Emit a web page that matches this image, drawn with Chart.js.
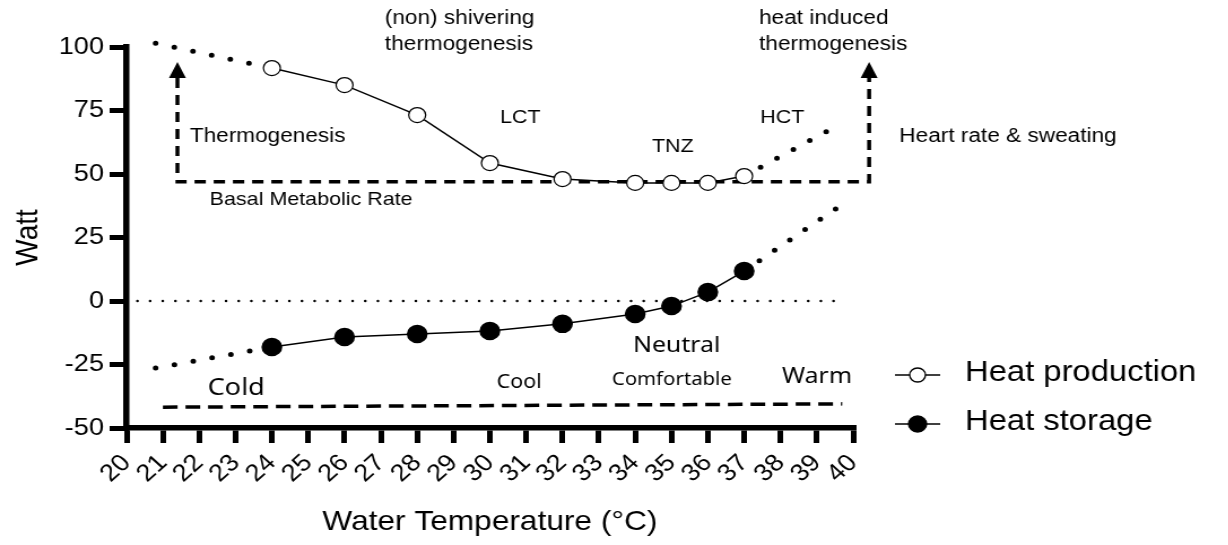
<!DOCTYPE html>
<html>
<head>
<meta charset="utf-8">
<script src="https://cdn.jsdelivr.net/npm/chart.js@4.4.1/dist/chart.umd.min.js"></script>
<style>
  html, body { margin: 0; padding: 0; background: #fff; overflow: hidden; }
  #wrap {
    position: absolute; left: 0; top: 0;
    width: 1087px; height: 545px;
    transform: scaleX(1.13); transform-origin: 0 0;
  }
</style>
</head>
<body>
<div id="wrap"><canvas id="chart"></canvas></div>
<script>
// Measured points
const temps = [24, 26, 28, 30, 32, 34, 35, 36, 37];
const heatProduction = [91.7, 85, 73.2, 54.3, 48, 46.5, 46.5, 46.5, 49.2];
const heatStorage = [-18.1, -14.2, -13, -11.8, -9, -5.1, -2, 3.5, 11.8];

// Dotted extrapolations
const prodColdX = [20.8, 24];
const prodColdY = [101.5, 91.7];
const prodWarmX = [37, 39.5];
const prodWarmY = [49.2, 68.5];
const storColdX = [20.8, 24];
const storColdY = [-26.4, -18.1];
const storWarmX = [37, 38.5, 39.8];
const storWarmY = [11.8, 26.4, 39];

// Reference lines (BMR path runs right to left so every point gets drawn)
const zeroX = [20.3, 39.7];
const zeroY = [0, 0];
const bmrX = [40.44, 40.44, 21.4, 21.4];
const bmrY = [90.2, 46.9, 46.9, 90.2];
const zoneX = [21, 39.7];
const zoneY = [-41.8, -40.5];

// Axis ticks
const xTickValues = [20, 21, 22, 23, 24, 25, 26, 27, 28, 29, 30, 31, 32, 33, 34, 35, 36, 37, 38, 39, 40];
const yTickValues = [-50, -25, 0, 25, 50, 75, 100];

// Text labels
const notes = [
  { text: "(non) shivering", x: 27.11, y: 111.4, size: 20 },
  { text: "thermogenesis", x: 27.11, y: 100.8, size: 20 },
  { text: "heat induced", x: 37.41, y: 111.4, size: 20 },
  { text: "thermogenesis", x: 37.41, y: 100.8, size: 20 },
  { text: "Thermogenesis", x: 21.74, y: 64.6, size: 20 },
  { text: "LCT", x: 30.28, y: 72, size: 19 },
  { text: "TNZ", x: 34.46, y: 60.6, size: 19 },
  { text: "HCT", x: 37.44, y: 72, size: 19 },
  { text: "Heart rate & sweating", x: 41.27, y: 64.6, size: 20 },
  { text: "Basal Metabolic Rate", x: 22.29, y: 39.8, size: 19 },
  { text: "Cold", x: 22.23, y: -34.3, size: 24, family: "Noto Sans" },
  { text: "Cool", x: 30.19, y: -32.3, size: 19, family: "Noto Sans" },
  { text: "Neutral", x: 33.94, y: -17.7, size: 22, family: "Noto Sans" },
  { text: "Comfortable", x: 33.36, y: -31.1, size: 18, family: "Noto Sans" },
  { text: "Warm", x: 38.04, y: -29.9, size: 22, family: "Noto Sans" }
];

const legendItems = [
  { label: "Heat production", fill: "#fff" },
  { label: "Heat storage", fill: "#000" }
];

const FONT = "'Liberation Sans', Arial, sans-serif";

function pts(xs, ys) {
  return xs.map((x, i) => ({ x: x, y: ys[i] }));
}

function dotted(xs, ys) {
  return {
    data: pts(xs, ys),
    borderColor: "#000",
    borderWidth: 5,
    borderDash: [0, 17],
    borderCapStyle: "round",
    pointRadius: 0,
    clip: false
  };
}

// arrow heads on both ends of the BMR bracket
const arrowPlugin = {
  id: "arrows",
  afterDatasetsDraw(chart) {
    const ctx = chart.ctx;
    const xs = chart.scales.x;
    const ys = chart.scales.y;
    ctx.save();
    ctx.fillStyle = "#000";
    [0, bmrX.length - 1].forEach(i => {
      const px = xs.getPixelForValue(bmrX[i]);
      const py = ys.getPixelForValue(bmrY[i]);
      ctx.beginPath();
      ctx.moveTo(px, py - 10);
      ctx.lineTo(px + 7.5, py + 6);
      ctx.lineTo(px - 7.5, py + 6);
      ctx.closePath();
      ctx.fill();
    });
    ctx.restore();
  }
};

const notesPlugin = {
  id: "notes",
  afterDatasetsDraw(chart) {
    const ctx = chart.ctx;
    const xs = chart.scales.x;
    const ys = chart.scales.y;
    ctx.save();
    ctx.fillStyle = "#000";
    ctx.textAlign = "left";
    ctx.textBaseline = "middle";
    notes.forEach(n => {
      ctx.font = n.size + "px " + (n.family ? "'" + n.family + "'" : FONT);
      ctx.fillText(n.text, xs.getPixelForValue(n.x), ys.getPixelForValue(n.y));
    });
    ctx.restore();
  }
};

const legendPlugin = {
  id: "customLegend",
  afterDraw(chart) {
    const ctx = chart.ctx;
    const area = chart.chartArea;
    const x0 = area.right + 37;
    ctx.save();
    legendItems.forEach((item, i) => {
      const y = 375 + i * 49;
      ctx.strokeStyle = "#000";
      ctx.lineWidth = 1.5;
      ctx.beginPath();
      ctx.moveTo(x0, y);
      ctx.lineTo(x0 + 40, y);
      ctx.stroke();
      ctx.beginPath();
      ctx.arc(x0 + 20, y, i === 0 ? 7 : 8, 0, Math.PI * 2);
      ctx.fillStyle = item.fill;
      ctx.fill();
      ctx.lineWidth = 1.3;
      ctx.stroke();
      ctx.fillStyle = "#000";
      ctx.font = "29px " + FONT;
      ctx.textAlign = "left";
      ctx.textBaseline = "middle";
      ctx.fillText(item.label, x0 + 62, y - 2);
    });
    ctx.restore();
  }
};

const axisGrid = {
  drawOnChartArea: false,
  tickLength: 15,
  tickWidth: 5,
  tickColor: "#000",
  lineWidth: 5,
  color: "#000"
};

new Chart(document.getElementById("chart"), {
  type: "line",
  data: {
    datasets: [
      {
        label: "Heat production",
        data: pts(temps, heatProduction),
        borderColor: "#000",
        borderWidth: 1.5,
        pointRadius: 7.5,
        pointBackgroundColor: "#fff",
        pointBorderColor: "#000",
        pointBorderWidth: 1.2,
        clip: false
      },
      {
        label: "Heat storage",
        data: pts(temps, heatStorage),
        borderColor: "#000",
        borderWidth: 1.5,
        pointRadius: 8.5,
        pointBackgroundColor: "#000",
        pointBorderColor: "#000",
        clip: false
      },
      dotted(prodColdX, prodColdY),
      dotted(prodWarmX, prodWarmY),
      dotted(storColdX, storColdY),
      dotted(storWarmX, storWarmY),
      {
        data: pts(zeroX, zeroY),
        borderColor: "#000",
        borderWidth: 2.5,
        borderDash: [0, 11.2],
        borderCapStyle: "round",
        pointRadius: 0
      },
      {
        data: pts(bmrX, bmrY),
        borderColor: "#000",
        borderWidth: 3.5,
        borderDash: [10, 7],
        pointRadius: 0,
        clip: false
      },
      {
        data: pts(zoneX, zoneY),
        borderColor: "#000",
        borderWidth: 3.5,
        borderDash: [13, 7],
        pointRadius: 0,
        clip: false
      }
    ]
  },
  options: {
    responsive: true,
    maintainAspectRatio: false,
    animation: false,
    layout: { padding: { top: 47, right: 332, left: 0, bottom: 0 } },
    plugins: {
      legend: { display: false },
      tooltip: { enabled: false }
    },
    scales: {
      x: {
        type: "linear",
        min: 20,
        max: 40,
        afterFit(scale) { scale.height = 117; },
        afterBuildTicks(scale) { scale.ticks = xTickValues.map(v => ({ value: v })); },
        grid: axisGrid,
        border: { display: true, width: 5.5, color: "#000" },
        ticks: {
          autoSkip: false,
          minRotation: 45,
          maxRotation: 45,
          padding: 6,
          color: "#000",
          font: { family: FONT, size: 24 }
        },
        title: {
          display: true,
          text: "Water Temperature (°C)",
          color: "#000",
          font: { family: FONT, size: 28 },
          padding: { top: 4, bottom: 6 }
        }
      },
      y: {
        min: -50,
        max: 100,
        afterFit(scale) { scale.width = 112; },
        afterBuildTicks(scale) { scale.ticks = yTickValues.map(v => ({ value: v })); },
        grid: axisGrid,
        border: { display: true, width: 5.5, color: "#000" },
        ticks: {
          padding: 5,
          color: "#000",
          font: { family: FONT, size: 24 }
        },
        title: {
          display: true,
          text: "Watt",
          color: "#000",
          font: { family: FONT, size: 28 },
          padding: { top: 8, bottom: 4 }
        }
      }
    }
  },
  plugins: [arrowPlugin, notesPlugin, legendPlugin]
});
</script>
</body>
</html>
